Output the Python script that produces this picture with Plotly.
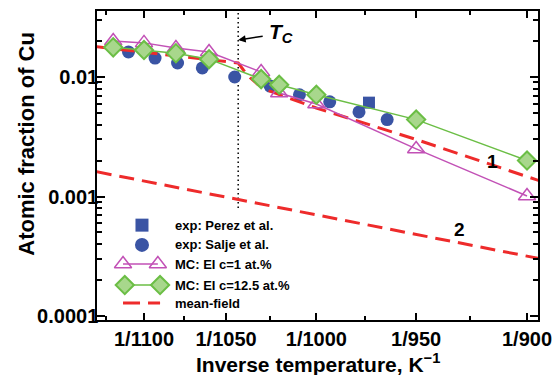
import math
import plotly.graph_objects as go

# ---- data -------------------------------------------------------------
# experiment (temperature in K, atomic fraction of Cu)
salje_T = [1110, 1093, 1079, 1064, 1045, 1025, 1009, 993, 978, 964]
salje_c = [0.0162, 0.0144, 0.0131, 0.0119, 0.0100, 0.0084, 0.0071, 0.0062, 0.0051, 0.0044]

perez_T = [973]
perez_c = [0.0061]

# Monte Carlo with effective interactions
mc_T = [1120, 1100, 1080, 1060, 1030, 1020, 1000, 950, 900]
mc_c1 = [0.0200, 0.0193, 0.0175, 0.0162, 0.0110, 0.00735, 0.00594, 0.00250, 0.00101]
mc_c125 = [0.0177, 0.0168, 0.0158, 0.0141, 0.0096, 0.0086, 0.0071, 0.0044, 0.0020]

# mean-field solubility curves
mf1_T = [1131, 1043, 1040, 1036, 1032, 1025, 1000, 950, 895]
mf1_c = [0.0179, 0.0131, 0.01145, 0.0098, 0.0087, 0.0076, 0.0055, 0.0030, 0.00136]
mf2_T = [1131, 1000, 895]
mf2_c = [0.00161, 0.000706, 0.000303]

Tc = 1043

tick_T = [1100, 1050, 1000, 950, 900]
tick_labels = ["1/1100", "1/1050", "1/1000", "1/950", "1/900"]
minor_T = [1125, 1075, 1025, 975, 925]
y_ticks = [1e-4, 1e-3, 1e-2]
y_labels = ["0.0001", "0.001", "0.01"]

# ---- style ------------------------------------------------------------
FONT = "Liberation Sans, Arial, Helvetica, sans-serif"
BLUE = "#3A54A4"
PINK = "#C251B6"
GREEN = "#6BBE45"
GREEN_FILL = "#A8D78C"
RED = "#EE2B2B"


def inv(ts):
    return [1.0 / t for t in ts]


def bold(size):
    return dict(family=FONT, size=size, color="black", weight="bold")


fig = go.Figure()

fig.add_trace(go.Scatter(
    x=inv([Tc, Tc]), y=[0.0008, 0.05], mode="lines",
    line=dict(color="black", width=1.5, dash="1.5px,3px"), showlegend=False))

fig.add_trace(go.Scatter(
    x=inv(salje_T), y=salje_c, mode="markers",
    marker=dict(symbol="circle", size=13, color=BLUE), showlegend=False))
fig.add_trace(go.Scatter(
    x=inv(perez_T), y=perez_c, mode="markers",
    marker=dict(symbol="square", size=12, color=BLUE), showlegend=False))

for T, c in ((mf1_T, mf1_c), (mf2_T, mf2_c)):
    fig.add_trace(go.Scatter(
        x=inv(T), y=c, mode="lines",
        line=dict(color=RED, width=3, dash="15px,8px"), showlegend=False))

fig.add_trace(go.Scatter(
    x=inv(mc_T), y=mc_c1, mode="lines+markers",
    line=dict(color=PINK, width=1.5),
    marker=dict(symbol="triangle-up-open", size=15, color=PINK, line=dict(width=1.5, color=PINK)),
    showlegend=False))
fig.add_trace(go.Scatter(
    x=inv(mc_T), y=mc_c125, mode="lines+markers",
    line=dict(color=GREEN, width=1.5),
    marker=dict(symbol="diamond", size=14, color=GREEN_FILL, line=dict(width=2, color=GREEN)),
    showlegend=False))

# ---- legend drawn on an overlay axis (plot-area fractions) --------------
leg_rows = [0.307, 0.243, 0.181, 0.113, 0.055]
leg_text = ["exp: Perez et al.", "exp: Salje et al.", "MC: EI c=1 at.%",
            "MC: EI c=12.5 at.%", "mean-field"]

fig.add_trace(go.Scatter(x=[0.102], y=[leg_rows[0]], mode="markers", xaxis="x2", yaxis="y2",
                         marker=dict(symbol="square", size=13, color=BLUE), showlegend=False))
fig.add_trace(go.Scatter(x=[0.102], y=[leg_rows[1]], mode="markers", xaxis="x2", yaxis="y2",
                         marker=dict(symbol="circle", size=14, color=BLUE), showlegend=False))
fig.add_trace(go.Scatter(x=[0.059, 0.138], y=[leg_rows[2]] * 2, mode="lines+markers",
                         xaxis="x2", yaxis="y2", line=dict(color=PINK, width=1.5),
                         marker=dict(symbol="triangle-up-open", size=15, color=PINK,
                                     line=dict(width=1.5, color=PINK)), showlegend=False))
fig.add_trace(go.Scatter(x=[0.063, 0.143], y=[leg_rows[3]] * 2, mode="lines+markers",
                         xaxis="x2", yaxis="y2", line=dict(color=GREEN, width=1.5),
                         marker=dict(symbol="diamond", size=14, color=GREEN_FILL,
                                     line=dict(width=2, color=GREEN)), showlegend=False))
fig.add_trace(go.Scatter(x=[0.059, 0.143], y=[leg_rows[4]] * 2, mode="lines",
                         xaxis="x2", yaxis="y2",
                         line=dict(color=RED, width=3, dash="17px,8px"), showlegend=False))

annotations = []
for yy, tx in zip(leg_rows, leg_text):
    annotations.append(dict(x=0.172, y=yy, xref="paper", yref="paper", text=tx,
                            showarrow=False, xanchor="left", yanchor="middle",
                            font=bold(13)))

# curve labels and the transition temperature marker
# (annotation y values on a log axis are given as log10)
annotations += [
    dict(x=1 / 915.0, y=math.log10(0.00195), text="1", showarrow=False, font=bold(19)),
    dict(x=1 / 930.0, y=math.log10(0.000525), text="2", showarrow=False, font=bold(19)),
    dict(x=1 / Tc, y=math.log10(0.0204), text="", showarrow=True, ax=26, ay=-4,
         arrowhead=2, arrowsize=1, arrowwidth=1.5, arrowcolor="black"),
    dict(x=1 / 1027.0, y=math.log10(0.0233), text="<i>T</i><sub><i>C</i></sub>",
         showarrow=False, xanchor="left", yanchor="middle", font=bold(21)),
]

# axis titles
annotations += [
    dict(x=-0.159, y=0.57, xref="paper", yref="paper", text="Atomic fraction of Cu",
         textangle=-90, showarrow=False, xanchor="center", yanchor="middle", font=bold(22)),
    dict(x=0.501, y=-0.14, xref="paper", yref="paper",
         text="Inverse temperature, K<sup>\u22121</sup>",
         showarrow=False, xanchor="center", yanchor="middle", font=bold(21)),
]

axis_common = dict(showline=True, linecolor="black", linewidth=1.5, mirror="allticks",
                   ticks="inside", tickcolor="black", tickwidth=1.5, showgrid=False,
                   zeroline=False, automargin=False, tickfont=bold(20))

fig.update_layout(
    width=555, height=375,
    margin=dict(l=97, r=17, t=11, b=55),
    paper_bgcolor="white", plot_bgcolor="white",
    xaxis=dict(**axis_common,
               range=[8.8430e-4, 1.116907e-3],
               tickmode="array", tickvals=inv(tick_T), ticktext=tick_labels, ticklen=7,
               minor=dict(tickvals=inv(minor_T), ticks="inside", ticklen=4,
                          tickcolor="black", tickwidth=1.5)),
    yaxis=dict(**axis_common, type="log",
               range=[-4.0335, -1.4477],
               tickmode="array", tickvals=y_ticks, ticktext=y_labels, ticklen=8,
               ticklabelstandoff=-7,
               minor=dict(tickvals=[m * 10 ** e for e in (-4, -3, -2) for m in range(2, 10)],
                          ticks="inside", ticklen=5, tickcolor="black", tickwidth=1.5)),
    xaxis2=dict(range=[0, 1], overlaying="x", visible=False, anchor="y2", automargin=False),
    yaxis2=dict(range=[0, 1], overlaying="y", visible=False, anchor="x2", automargin=False),
    annotations=annotations,
    showlegend=False,
)

fig.write_html("out.html")
